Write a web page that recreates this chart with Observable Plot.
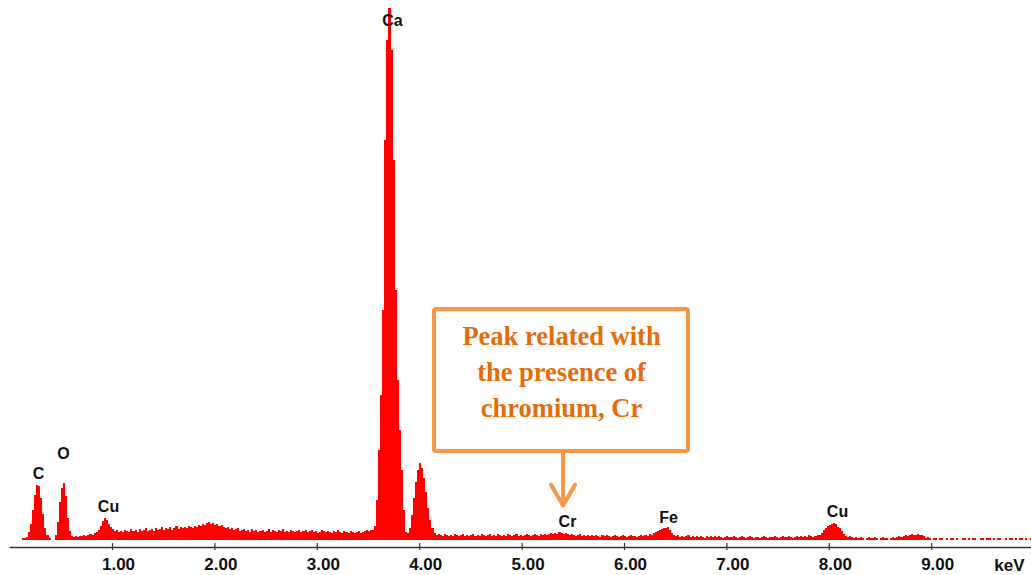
<!DOCTYPE html>
<html>
<head>
<meta charset="utf-8">
<script src="https://cdn.jsdelivr.net/npm/d3@7"></script>
<script src="https://cdn.jsdelivr.net/npm/@observablehq/plot@0.6"></script>
<style>
  html, body { margin: 0; padding: 0; background: #fff; }
  #chart svg { display: block; }
</style>
</head>
<body>
<div id="chart"></div>
<script>
// EDS spectrum: counts per 0.02 keV channel, starting at 0.10 keV
const channelStart = 0.10;
const channelWidth = 0.02;
const counts = [
  0,2,2,3,8,16,30,45,55,54,          // 0.10
  42,26,12,5,2,0,0,5,18,38,          // 0.30
  52,57,44,22,9,4,3,4,3,4,           // 0.50
  4,5,4,5,6,5,7,8,10,14,             // 0.70
  19,22,20,16,13,11,9,10,8,9,        // 0.90
  8,10,9,8,11,9,10,8,11,9,           // 1.10
  10,12,9,10,11,9,12,10,11,13,       // 1.30
  10,12,11,13,10,12,14,11,13,12,     // 1.50
  13,12,14,13,12,14,13,15,14,16,     // 1.70
  15,17,18,16,17,15,16,14,15,13,     // 1.90
  12,13,11,12,10,11,12,9,10,11,      // 2.10
  9,10,8,11,9,10,8,9,10,8,           // 2.30
  9,11,8,10,9,8,10,9,11,8,           // 2.50
  9,8,10,9,8,9,10,8,9,10,            // 2.70
  8,9,10,8,9,7,8,10,9,8,             // 2.90
  9,8,7,9,8,10,8,7,9,8,              // 3.10
  7,9,8,7,8,9,7,8,9,10,              // 3.30
  9,10,10,14,40,90,145,230,400,500,  // 3.50
  532,490,380,250,160,110,70,30,8,7, // 3.70
  12,25,42,58,70,77,72,62,48,32,     // 3.90
  20,12,7,5,6,5,4,6,5,4,             // 4.10
  5,4,6,5,4,5,6,4,5,4,               // 4.30
  5,6,4,5,4,6,5,4,5,6,               // 4.50
  4,5,4,6,5,4,5,4,6,5,               // 4.70
  4,5,6,4,5,4,5,6,5,4,               // 4.90
  5,6,5,4,6,5,6,5,6,7,               // 5.10
  6,7,6,8,7,6,7,6,5,6,               // 5.30
  5,4,5,6,4,5,4,5,4,5,               // 5.50
  4,5,4,3,5,4,5,4,3,4,               // 5.70
  5,4,3,4,5,4,3,4,5,4,               // 5.90
  4,3,4,5,4,5,4,6,5,7,               // 6.10
  8,9,10,11,12,12,13,10,7,5,         // 6.30
  4,5,3,4,3,4,5,3,4,3,               // 6.50
  4,3,4,3,2,4,3,4,3,4,               // 6.70
  3,4,3,2,3,4,3,3,4,3,               // 6.90
  2,3,4,3,2,3,4,3,2,3,               // 7.10
  3,2,3,4,3,2,3,3,4,3,               // 7.30
  2,3,4,3,3,4,3,2,3,4,               // 7.50
  3,4,3,4,3,5,4,3,4,5,               // 7.70
  5,7,10,12,14,15,16,17,16,13,       // 7.90
  12,9,6,4,3,4,3,2,3,2,              // 8.10
  3,2,0,2,3,2,2,3,2,0,               // 8.30
  2,3,2,2,0,2,3,2,3,4,               // 8.50
  3,4,5,4,5,6,5,5,6,5,               // 8.70
  5,4,2,3,2,0,2,2,0,2,               // 8.90
  2,0,2,0,2,2,0,2,0,0,               // 9.10
  2,2,0,2,0,2,2,0,0,2,               // 9.30
  2,0,2,2,0,2,0,2,2,0,               // 9.50
  0,2,0,2,2,0,2,0,2,2,               // 9.70
  0,2,0,2,2                          // 9.90
];

const tickValues = [1, 2, 3, 4, 5, 6, 7, 8, 9];
const axisUnit = "keV";

// element labels
const peakLabels = ["C", "O", "Cu", "Ca", "Cr", "Fe", "Cu"];
const peakEnergies = [0.277, 0.521, 0.961, 3.734, 5.443, 6.43, 8.08];
const peakLabelHeights = [67, 87, 34, 520, 19, 23, 29];

// annotation
const noteText = "Peak related with\nthe presence of\nchromium, Cr";
const noteEnergyRange = [4.145, 6.625];
const noteCountRange = [89, 231];
const noteTextCenter = [5.385, 171];
const arrowEnergy = 5.40;
const arrowCounts = [140, 35];

const spectrum = counts.map((c, i) => ({energy: channelStart + i * channelWidth, counts: c}));
const orange = "#f79646";

const chart = Plot.plot({
  width: 1031,
  height: 575,
  marginLeft: 10,
  marginRight: 0,
  marginTop: 8,
  marginBottom: 28,
  x: {domain: [0, 10], range: [9.6, 1033.6], label: null},
  y: {domain: [0, 532], insetBottom: 7, axis: null, label: null},
  style: {fontFamily: "'Liberation Sans', Arial, sans-serif", background: "white", overflow: "visible"},
  marks: [
    Plot.areaY(spectrum, {x: "energy", y: "counts", curve: "step-after", fill: "#ff0000", shapeRendering: "crispEdges"}),
    Plot.frame({anchor: "bottom", stroke: "#333", strokeWidth: 1.5}),
    Plot.axisX({ticks: tickValues, tickSize: 7, dy: -4, tickFormat: () => "", label: null, stroke: "#333", strokeWidth: 1.2}),
    Plot.axisX({ticks: tickValues, tickSize: 0, tickPadding: 10, dx: 6, tickFormat: d3.format(".2f"), label: null,
      fontSize: 17, fontWeight: "bold", color: "#111"}),
    Plot.text([axisUnit], {frameAnchor: "bottom-right", textAnchor: "end", lineAnchor: "middle",
      dx: -7, dy: 18, fontSize: 17, fontWeight: "bold", fill: "#111"}),
    Plot.text(peakLabels, {x: (d, i) => peakEnergies[i], y: (d, i) => peakLabelHeights[i], text: d => d,
      fontSize: 16, fontWeight: "bold", fill: "#111"}),
    Plot.arrow([0], {x1: () => arrowEnergy, x2: () => arrowEnergy, y1: () => arrowCounts[0], y2: () => arrowCounts[1],
      stroke: orange, strokeWidth: 4, headLength: 9, headAngle: 60}),
    Plot.rect([0], {x1: () => noteEnergyRange[0], x2: () => noteEnergyRange[1],
      y1: () => noteCountRange[0], y2: () => noteCountRange[1],
      fill: "white", stroke: orange, strokeWidth: 4, rx: 2}),
    Plot.text([noteText], {x: () => noteTextCenter[0], y: () => noteTextCenter[1], text: d => d,
      fontFamily: "'Liberation Serif', 'DejaVu Serif', serif", fontSize: 26.5, fontWeight: "bold",
      fill: "#e46c0a", lineHeight: 1.36, textAnchor: "middle", lineAnchor: "middle"})
  ]
});
document.getElementById("chart").appendChild(chart);
</script>
</body>
</html>
